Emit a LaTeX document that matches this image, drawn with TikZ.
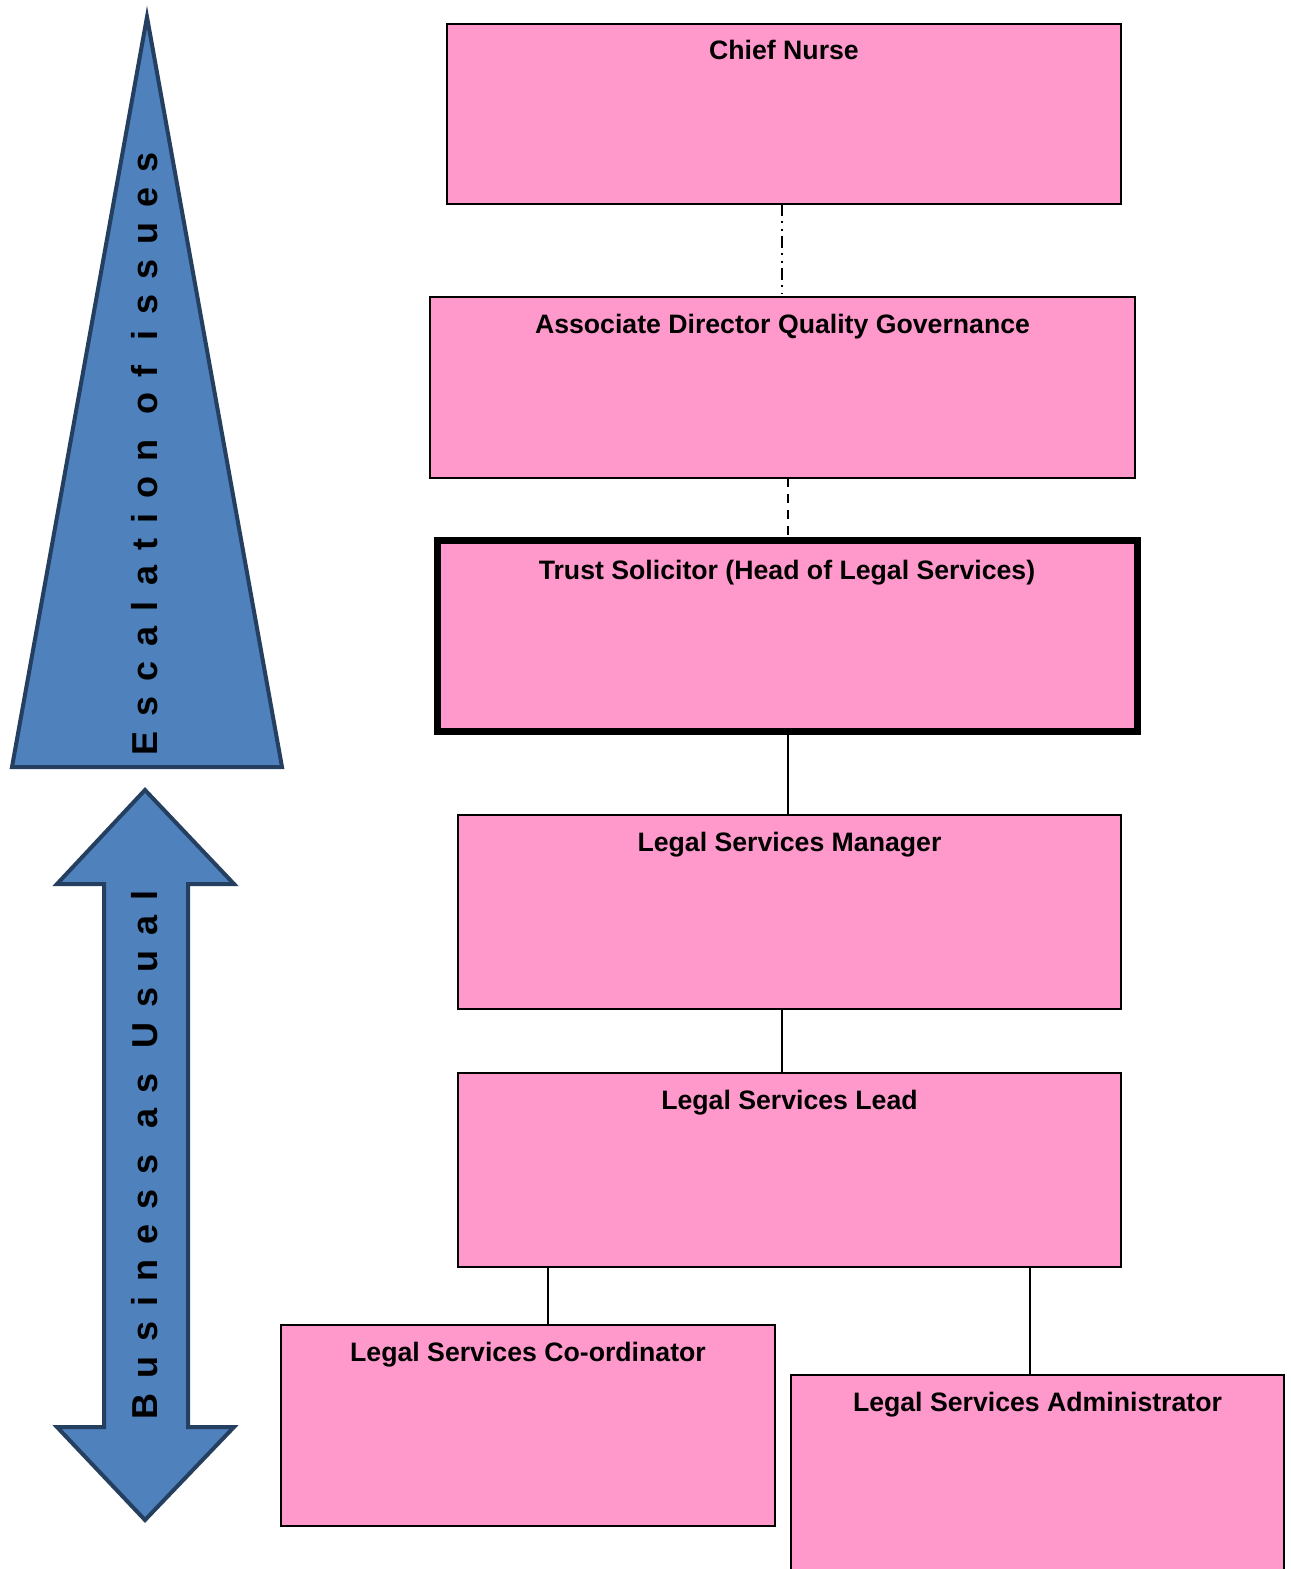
\documentclass[tikz,border=0pt]{standalone}
\usepackage{fontspec}
\setmainfont{Liberation Sans}
\usetikzlibrary{calc}
\definecolor{boxpink}{HTML}{FF99CC}
\definecolor{arrowblue}{HTML}{4F81BD}
\definecolor{arrowedge}{HTML}{243F60}
\begin{document}
\begin{tikzpicture}[x=0.75pt,y=-0.75pt,
  orgbox/.style={draw=black, fill=boxpink, line width=1pt, rectangle, inner sep=0pt, outer sep=0pt, anchor=north west},
  boxtitle/.style={font=\fontsize{20}{24}\selectfont\bfseries, anchor=base, inner sep=0pt},
  conn/.style={draw=black, line width=1.1pt},
  shape3d/.style={fill=arrowblue, draw=arrowedge, line width=3pt, line join=miter},
  vtext/.style={font=\fontsize{27}{30}\selectfont\bfseries\addfontfeature{LetterSpace=42}, rotate=90, anchor=base, inner sep=0pt}]
\useasboundingbox (0,0) rectangle (1290,1569);
\clip (0,0) rectangle (1290,1569);
\fill[white] (0,0) rectangle (1290,1569);

% left graphics
\draw[shape3d] (147,17) -- (282,767) -- (12,767) -- cycle;
\node[vtext] (esc) at (157,454) {Escalation of issues};
\draw[shape3d] (145,790) -- (234,884) -- (188,884) -- (188,1427) -- (234,1427) -- (145,1520)
  -- (57,1427) -- (104,1427) -- (104,884) -- (57,884) -- cycle;
\node[vtext] (bau) at (157,1155) {Business as Usual};

% boxes
\node[orgbox, minimum width=674*0.75pt, minimum height=180*0.75pt] (cn) at (447,24) {};
\node[boxtitle] at ($(cn.north)+(0,36)$) {Chief Nurse};
\node[orgbox, minimum width=705*0.75pt, minimum height=181*0.75pt] (adqg) at (430,297) {};
\node[boxtitle] at ($(adqg.north)+(0,37)$) {Associate Director Quality Governance};
\node[orgbox, line width=5.25pt, minimum width=700*0.75pt, minimum height=191*0.75pt] (ts) at (437,540) {};
\node[boxtitle] at ($(ts.north)+(0,39)$) {Trust Solicitor (Head of Legal Services)};
\node[orgbox, minimum width=663*0.75pt, minimum height=194*0.75pt] (lsm) at (458,815) {};
\node[boxtitle] at ($(lsm.north)+(0,36)$) {Legal Services Manager};
\node[orgbox, minimum width=663*0.75pt, minimum height=194*0.75pt] (lsl) at (458,1073) {};
\node[boxtitle] at ($(lsl.north)+(0,36)$) {Legal Services Lead};
\node[orgbox, minimum width=494*0.75pt, minimum height=201*0.75pt] (lsc) at (281,1325) {};
\node[boxtitle] at ($(lsc.north)+(0,36)$) {Legal Services Co-ordinator};
\node[orgbox, minimum width=493*0.75pt, minimum height=260*0.75pt] (lsa) at (791,1375) {};
\node[boxtitle] at ($(lsa.north)+(0,36)$) {Legal Services Administrator};

% connectors
\coordinate (c1) at (782,0);
\coordinate (c2) at (788,0);
\coordinate (c3) at (548,0);
\coordinate (c4) at (1030,0);
\draw[conn, dash pattern=on 9pt off 4pt on 1.5pt off 4pt on 1.5pt off 4pt] (cn.south -| c1) -- ($(adqg.north -| c1)+(0,-4)$);
\draw[conn, dash pattern=on 7pt off 5pt] (adqg.south -| c2) -- (ts.north -| c2);
\draw[conn] (ts.south -| c2) -- (lsm.north -| c2);
\draw[conn] (lsm.south -| c1) -- (lsl.north -| c1);
\draw[conn] (lsl.south -| c3) -- (lsc.north -| c3);
\draw[conn] (lsl.south -| c4) -- (lsa.north -| c4);
\end{tikzpicture}
\end{document}
